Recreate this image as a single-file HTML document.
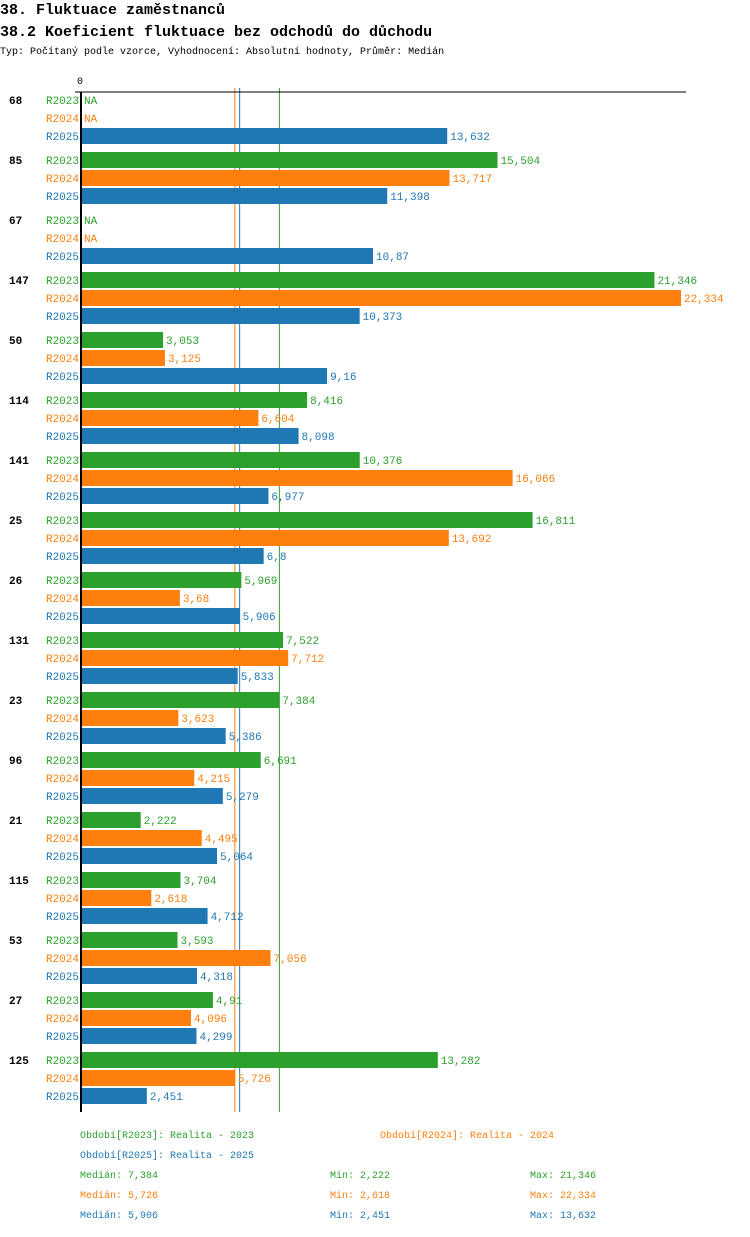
<!DOCTYPE html>
<html><head><meta charset="utf-8"><style>
body{margin:0;background:#fff;width:750px;height:1232px;overflow:hidden;font-family:"Liberation Mono",monospace}
svg text{font-family:"Liberation Mono",monospace}
</style></head><body>
<svg id="c" width="750" height="1232" xmlns="http://www.w3.org/2000/svg">
<text x="0" y="14" font-size="15" font-weight="bold">38. Fluktuace zaměstnanců</text>
<text x="0" y="36" font-size="15" font-weight="bold">38.2 Koeficient fluktuace bez odchodů do důchodu</text>
<text x="0" y="54" font-size="10">Typ: Počítaný podle vzorce, Vyhodnocení: Absolutní hodnoty, Průměr: Medián</text>
</svg>
<script>
const categories=["68","85","67","147","50","114","141","25","26","131","23","96","21","115","53","27","125"];
const r2023=[null,15.504,null,21.346,3.053,8.416,10.376,16.811,5.969,7.522,7.384,6.691,2.222,3.704,3.593,4.91,13.282];
const r2024=[null,13.717,null,22.334,3.125,6.604,16.066,13.692,3.68,7.712,3.623,4.215,4.495,2.618,7.056,4.096,5.726];
const r2025=[13.632,11.398,10.87,10.373,9.16,8.098,6.977,6.8,5.906,5.833,5.386,5.279,5.064,4.712,4.318,4.299,2.451];
const seriesNames=["R2023","R2024","R2025"];
const colors=["#2ca02c","#ff7f0e","#1f77b4"];
const medians=[7.384,5.726,5.906];
const mins=[2.222,2.618,2.451];
const maxs=[21.346,22.334,13.632];
const svg=document.getElementById('c');
const NS='http://www.w3.org/2000/svg';
const x0=81,scale=600/22.334;
const xs=v=>x0+v*scale;
const yRow=(g,s)=>100+g*60+s*18;
function mk(t,a,txt){const e=document.createElementNS(NS,t);for(const k in a)e.setAttribute(k,a[k]);if(txt!==undefined)e.textContent=txt;svg.appendChild(e);return e;}
const fmt=v=>String(v).replace('.',',');
const series=[r2023,r2024,r2025];
const yEnd=1112;
const z=mk('text',{x:77,y:84,'font-size':10},'0');


medians.forEach((m,s)=>{
  const ln=mk('line',{x1:xs(m),x2:xs(m),y1:88,y2:yEnd,stroke:colors[s],'stroke-width':1});
  
  
});
categories.forEach((c,g)=>{
  const t=mk('text',{x:9,y:yRow(g,0)+4,'font-size':11,'font-weight':'bold'},c);
  
  
  series.forEach((arr,s)=>{
    const y=yRow(g,s),v=arr[g];
    const l=mk('text',{x:79,y:y+4,'font-size':11,fill:colors[s],'text-anchor':'end'},seriesNames[s]);
    
    
    if(v==null){
      const n=mk('text',{x:84,y:y+4,'font-size':11,fill:colors[s]},'NA');
      
      
    }else{
      const r=mk('rect',{x:x0,y:y-8,width:xs(v)-x0,height:16,fill:colors[s]});
      
      
      const vt=mk('text',{x:xs(v)+3,y:y+4,'font-size':11,fill:colors[s]},fmt(v));
      
      
    }
  });
});
const ax=mk('line',{x1:75,x2:686,y1:92,y2:92,stroke:'#000','stroke-width':1});


const ay=mk('line',{x1:81,x2:81,y1:92,y2:yEnd,stroke:'#000','stroke-width':2});


const leg=[[80,1138,0,"Období[R2023]: Realita - 2023"],[380,1138,1,"Období[R2024]: Realita - 2024"],[80,1158,2,"Období[R2025]: Realita - 2025"]];
leg.forEach(([x,y,s,t])=>{
  const e=mk('text',{x:x,y:y,'font-size':10,fill:colors[s]},t);
  
  
});
[0,1,2].forEach(s=>{
  const y=1178+s*20;
  const a=mk('text',{x:80,y:y,'font-size':10,fill:colors[s]},'Medián: '+fmt(medians[s]));
  
  
  const b=mk('text',{x:330,y:y,'font-size':10,fill:colors[s]},'Min: '+fmt(mins[s]));
  
  
  const c=mk('text',{x:530,y:y,'font-size':10,fill:colors[s]},'Max: '+fmt(maxs[s]));
  
  
});
</script>
</body></html>
